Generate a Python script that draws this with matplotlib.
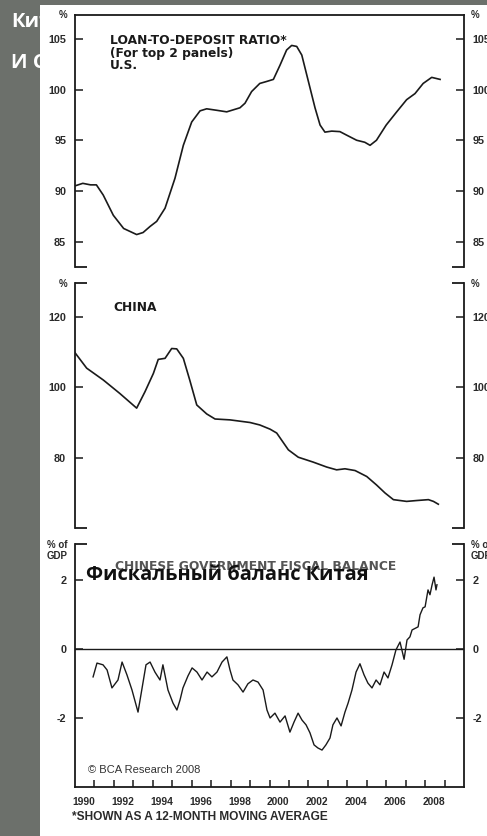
import matplotlib
matplotlib.use("Agg")
import matplotlib.pyplot as plt
from matplotlib.patches import Rectangle
from matplotlib.font_manager import FontProperties

plt.rcParams["axes.unicode_minus"] = False

# --- данные ---
us_years = [1990.0, 1990.4, 1990.8, 1991.1, 1991.45, 1991.97, 1992.5, 1993.17, 1993.5, 1993.86,
            1994.2, 1994.63, 1995.14, 1995.57, 1996.0, 1996.43, 1996.77, 1997.3, 1997.8, 1998.48,
            1998.74, 1999.08, 1999.5, 1999.86, 2000.2, 2000.54, 2000.88, 2001.14, 2001.4, 2001.66,
            2002.0, 2002.34, 2002.6, 2002.85, 2003.2, 2003.62, 2003.97, 2004.48, 2004.9, 2005.17,
            2005.5, 2006.0, 2006.54, 2007.05, 2007.48, 2007.9, 2008.34, 2008.77]
us_ratio = [90.5, 90.75, 90.6, 90.6, 89.6, 87.6, 86.3, 85.7, 85.9, 86.5,
            87.0, 88.3, 91.25, 94.5, 96.8, 97.9, 98.1, 97.95, 97.8, 98.2,
            98.65, 99.8, 100.6, 100.8, 101.0, 102.4, 103.9, 104.35, 104.25, 103.4,
            100.8, 98.2, 96.5, 95.8, 95.9, 95.85, 95.5, 95.0, 94.8, 94.5,
            95.0, 96.5, 97.8, 99.0, 99.6, 100.6, 101.2, 101.0]

cn_years = [1990.0, 1990.6, 1991.46, 1992.3, 1993.17, 1993.6, 1994.03, 1994.28, 1994.63, 1994.97,
            1995.23, 1995.57, 1995.9, 1996.26, 1996.77, 1997.2, 1997.97, 1999.0, 1999.5, 2000.03,
            2000.37, 2000.97, 2001.48, 2002.25, 2002.94, 2003.45, 2003.88, 2004.4, 2005.0, 2005.5,
            2005.94, 2006.37, 2007.05, 2007.57, 2008.17, 2008.43, 2008.68]
cn_ratio = [109.9, 105.5, 102.1, 98.3, 94.1, 98.8, 104.0, 108.0, 108.3, 111.1,
            111.0, 108.3, 102.1, 95.0, 92.45, 91.0, 90.75, 90.0, 89.3, 88.1,
            87.0, 82.2, 80.1, 78.7, 77.3, 76.5, 76.8, 76.3, 74.6, 72.2,
            69.9, 68.0, 67.5, 67.75, 68.0, 67.5, 66.7]

fb_years = [1990.93, 1991.13, 1991.44, 1991.65, 1991.90, 1992.21, 1992.42, 1992.67, 1992.93, 1993.24,
            1993.39, 1993.65, 1993.86, 1994.11, 1994.37, 1994.52, 1994.78, 1995.04, 1995.24, 1995.40,
            1995.55, 1995.81, 1996.02, 1996.27, 1996.53, 1996.79, 1997.04, 1997.30, 1997.56, 1997.81,
            1997.97, 1998.12, 1998.38, 1998.64, 1998.89, 1999.15, 1999.41, 1999.67, 1999.87, 2000.03,
            2000.28, 2000.54, 2000.80, 2001.05, 2001.26, 2001.47, 2001.67, 2001.88, 2002.08, 2002.29,
            2002.49, 2002.70, 2002.90, 2003.11, 2003.26, 2003.47, 2003.68, 2003.88, 2004.04, 2004.24,
            2004.45, 2004.65, 2004.86, 2005.06, 2005.27, 2005.48, 2005.68, 2005.89, 2006.09, 2006.30,
            2006.50, 2006.71, 2006.92, 2007.07, 2007.22, 2007.33, 2007.64, 2007.74, 2007.89, 2008.00,
            2008.15, 2008.25, 2008.36, 2008.46, 2008.56, 2008.61]
fb_balance = [-0.81, -0.41, -0.46, -0.61, -1.13, -0.90, -0.38, -0.75, -1.19, -1.83,
              -1.33, -0.46, -0.38, -0.67, -0.90, -0.46, -1.19, -1.57, -1.77, -1.48,
              -1.13, -0.78, -0.55, -0.67, -0.90, -0.67, -0.81, -0.67, -0.38, -0.23,
              -0.61, -0.90, -1.04, -1.25, -1.01, -0.90, -0.96, -1.19, -1.77, -2.00,
              -1.86, -2.12, -1.94, -2.41, -2.12, -1.86, -2.06, -2.20, -2.43, -2.78,
              -2.87, -2.93, -2.78, -2.58, -2.20, -2.00, -2.23, -1.83, -1.57, -1.19,
              -0.67, -0.43, -0.75, -0.99, -1.13, -0.90, -1.04, -0.67, -0.84, -0.46,
              -0.03, 0.20, -0.30, 0.26, 0.35, 0.55, 0.64, 0.99, 1.19, 1.22,
              1.71, 1.57, 1.86, 2.08, 1.71, 1.86]

year_ticks = list(range(1991, 2010))
year_labels = list(range(1990, 2009, 2))

W, H = 487, 836
GREY = "#6c706b"
INK = "#1a1a1a"
NUMC = "#2a2a2a"
NUM = dict(family="Liberation Sans", weight="bold", color=NUMC)
TTL = dict(family="DejaVu Sans", weight="bold")

fig = plt.figure(figsize=(W / 100, H / 100), dpi=100)
fig.patch.set_facecolor(GREY)

# заголовок слайда, почти весь закрыт белой картинкой
fig.text(11 / W, 1 - 22 / H, "Китай", color="white", fontsize=14.5,
         family="Open Sans", weight="bold", va="center", zorder=1)
fig.text(11 / W, 1 - 63 / H, "И США", color="white", fontsize=14.5,
         family="Open Sans", weight="bold", va="center", zorder=1)
fig.add_artist(Rectangle((40 / W, 0), 1 - 40 / W, 1 - 5 / H, transform=fig.transFigure,
                         facecolor="white", edgecolor="none", zorder=2))


def px_axes(top, bottom):
    ax = fig.add_axes([75 / W, 1 - bottom / H, (464 - 75) / W, (bottom - top) / H])
    ax.set_zorder(3)
    ax.set_facecolor("none")
    ax.set_xlim(1990, 2010)
    return ax


def frame(ax, top_full, bottom_full):
    ax.spines["top"].set_visible(top_full)
    ax.spines["bottom"].set_visible(bottom_full)
    for s in ax.spines.values():
        s.set_linewidth(1.3)
        s.set_color(INK)
    seg = 0.03
    kw = dict(transform=ax.transAxes, clip_on=False, color=INK, lw=1.3, solid_capstyle="butt")
    if not top_full:
        ax.plot([0, seg], [1, 1], **kw)
        ax.plot([1 - seg, 1], [1, 1], **kw)
    if not bottom_full:
        ax.plot([0, seg], [0, 0], **kw)
        ax.plot([1 - seg, 1], [0, 0], **kw)
    ax.tick_params(axis="y", which="major", direction="in", length=5.5, width=1.1,
                   left=True, right=True, labelleft=True, labelright=True,
                   pad=6.3, colors=INK)
    fp = FontProperties(family="Liberation Sans", weight="bold", size=7.8)
    for t in ax.yaxis.get_major_ticks():
        t.label1.set_fontproperties(fp)
        t.label2.set_fontproperties(fp)
        t.label1.set_color(NUMC)
        t.label2.set_color(NUMC)


def unit(ax, lines):
    h = ax.bbox.height
    for i, t in enumerate(lines):
        y = 1 - (1 + i * 11) / h
        ax.text(-0.02, y, t, transform=ax.transAxes, ha="right", va="center",
                fontsize=7, clip_on=False, **NUM)
        ax.text(1.018, y, t, transform=ax.transAxes, ha="left", va="center",
                fontsize=7, clip_on=False, **NUM)


# --- верхняя панель: США ---
ax1 = px_axes(14.5, 267)
ax1.plot(us_years, us_ratio, color=INK, lw=1.2)
ax1.set_ylim(82.5, 107.4)
ax1.set_yticks([85, 90, 95, 100, 105])
ax1.set_xticks([])
frame(ax1, True, False)
unit(ax1, ["%"])
for t, yb in zip(["LOAN-TO-DEPOSIT RATIO*", "(For top 2 panels)", "U.S."], [44, 56.6, 69]):
    ax1.text(0.09, (267 - yb) / (267 - 14.5), t, transform=ax1.transAxes,
             fontsize=8.8, color=INK, va="baseline", **TTL)

# --- средняя панель: Китай ---
ax2 = px_axes(283.3, 527.7)
ax2.plot(cn_years, cn_ratio, color=INK, lw=1.2)
ax2.set_ylim(60, 129.7)
ax2.set_yticks([80, 100, 120])
ax2.set_xticks([])
frame(ax2, False, False)
unit(ax2, ["%"])
ax2.text(0.098, (527.7 - 311) / (527.7 - 283.3), "CHINA", transform=ax2.transAxes,
         fontsize=8.8, color=INK, va="baseline", **TTL)

# --- нижняя панель: бюджетный баланс ---
ax3 = px_axes(544, 787)
ax3.axhline(0, color=INK, lw=1.0)
ax3.plot(fb_years, fb_balance, color=INK, lw=1.0)
ax3.set_ylim(-4.0, 3.04)
ax3.set_yticks([-2, 0, 2])
frame(ax3, False, True)
unit(ax3, ["% of", "GDP"])
ax3.set_xticks(year_ticks)
ax3.set_xticks([y + 0.45 for y in year_labels], minor=True)
ax3.set_xticklabels([str(y) for y in year_labels], minor=True)
ax3.tick_params(axis="x", which="major", direction="in", length=5, width=1.1,
                labelbottom=False, colors=INK)
ax3.tick_params(axis="x", which="minor", length=0, pad=7, labelsize=7.4)
for lab in ax3.get_xticklabels(minor=True):
    lab.set_family("Liberation Sans")
    lab.set_weight("bold")
    lab.set_color(NUMC)
ax3.text(0.102, (787 - 570.5) / (787 - 544), "CHINESE GOVERNMENT FISCAL BALANCE",
         transform=ax3.transAxes, fontsize=8.8, color="#555555", va="baseline", **TTL)
ax3.text(0.033, 0.07, "© BCA Research 2008", transform=ax3.transAxes, fontsize=8,
         family="Liberation Sans", color="#333333", va="center")

fig.text(72 / W, 1 - 817 / H, "*SHOWN AS A 12-MONTH MOVING AVERAGE", fontsize=8.6,
         va="center", zorder=5, **NUM)

# русская подпись поверх картинки
fig.text(86 / W, 1 - 580 / H, "Фискальный баланс Китая", fontsize=14.4, family="Open Sans",
         weight="bold", color="#111111", va="baseline", zorder=10)

fig.savefig("out.png", dpi=100, facecolor=fig.get_facecolor())
